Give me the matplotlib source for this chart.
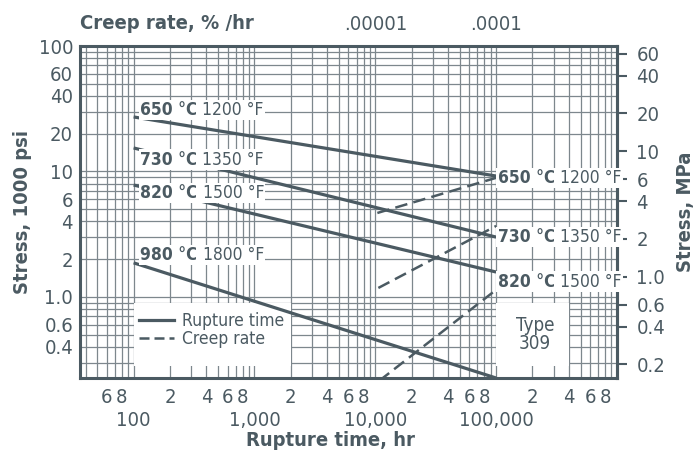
import numpy as np
import matplotlib
matplotlib.use('Agg')
import matplotlib.pyplot as plt
from matplotlib.ticker import LogLocator, FuncFormatter, NullLocator, NullFormatter
from matplotlib.patches import Rectangle

# condensed face throughout
plt.rcParams['font.family'] = ['DejaVu Sans']
plt.rcParams['font.stretch'] = 'condensed'
ink = '#4b5a62'
gridc = '#7d878d'

# Data: rupture time (hr) vs stress (1000 psi), solid lines
temps_c = ['650', '730', '820', '980']
temps_f = ['1200', '1350', '1500', '1800']
rupture_time = [100, 100000]
rupture_650 = [27.2, 9.2]
rupture_730 = [15.4, 3.0]
rupture_820 = [7.8, 1.58]
rupture_980 = [1.87, 0.226]

# creep rate (%/hr) vs stress (1000 psi), dashed lines
creep_650_rate = [1.04e-5, 1.0e-4]
creep_650 = [4.67, 8.9]
creep_730_rate = [1.06e-5, 1.0e-4]
creep_730 = [1.18, 3.68]
creep_820_rate = [1.08e-5, 1.0e-4]
creep_820 = [0.215, 1.14]

# axis tick values
x_major = [100, 1000, 10000, 100000]
x_major_labels = ['100', '1,000', '10,000', '100,000']
y_left = [100, 60, 40, 20, 10, 6, 4, 2, 1.0, 0.6, 0.4]
y_left_labels = ['100', '60', '40', '20', '10', '6', '4', '2', '1.0', '0.6', '0.4']
y_right = [60, 40, 20, 10, 6, 4, 2, 1.0, 0.6, 0.4, 0.2]
y_right_labels = ['60', '40', '20', '10', '6', '4', '2', '1.0', '0.6', '0.4', '0.2']
creep_ticks = [1e-5, 1e-4]
creep_labels = ['.00001', '.0001']

HR_PER_RATE = 1e9      # top scale: creep rate * 1e9 -> rupture-time position
MPA_SCALE = 0.6895     # right scale as labelled

TICK_FS = 14.5
fig = plt.figure(figsize=(6.98, 4.55), dpi=100)
ax = fig.add_axes([0.1146, 0.1692, 0.7693, 0.7297])
ax.set_xscale('log')
ax.set_yscale('log')
ax.set_xlim(36, 1e6)
ax.set_ylim(0.226, 100)
ax.set_axisbelow(True)

# grid
ax.xaxis.set_minor_locator(LogLocator(base=10, subs=np.arange(2, 10), numticks=30))
ax.yaxis.set_minor_locator(LogLocator(base=10, subs=np.arange(2, 10), numticks=30))
ax.grid(True, which='both', color=gridc, lw=0.9, zorder=0)

# x ticks
ax.set_xticks(x_major)
ax.set_xticklabels(x_major_labels)

def minor_fmt(v, pos):
    d = int(round(v / 10 ** np.floor(np.log10(v) + 1e-9)))
    if d in (2, 4, 6, 8) and v > 50:
        return str(d)
    return ''

ax.xaxis.set_minor_formatter(FuncFormatter(minor_fmt))
ax.tick_params(axis='x', which='major', length=0, pad=24, labelsize=TICK_FS, labelcolor=ink)
ax.tick_params(axis='x', which='minor', length=0, pad=7, labelsize=TICK_FS, labelcolor=ink)

# y ticks (left)
ax.set_yticks(y_left)
ax.set_yticklabels(y_left_labels)
ax.yaxis.set_minor_formatter(NullFormatter())
ax.tick_params(axis='y', which='both', length=0, pad=5, labelsize=TICK_FS, labelcolor=ink)

for s in ax.spines.values():
    s.set_color(ink)
    s.set_linewidth(2.2)

# white boxes behind legend and type label
ax.add_patch(Rectangle((100, 0.28), 1900, 0.61, facecolor='white', edgecolor='none', zorder=1))
ax.add_patch(Rectangle((1e5, 0.28), 3e5, 0.61, facecolor='white', edgecolor='none', zorder=1))

# rupture lines
for vals in [rupture_650, rupture_730, rupture_820, rupture_980]:
    ax.plot(rupture_time, vals, color=ink, lw=2.3, zorder=3, solid_capstyle='butt')

# creep lines
for rate, vals in [(creep_650_rate, creep_650), (creep_730_rate, creep_730),
                   (creep_820_rate, creep_820)]:
    ax.plot(np.array(rate) * HR_PER_RATE, vals, color=ink, lw=1.8,
            dashes=(5, 2.5), zorder=3)

# temperature labels
def temp_label(x, y, tc, tf):
    t = ax.text(x, y, f'{tc} °C', fontsize=12.5, fontweight='bold', color=ink,
                ha='left', va='center', zorder=5,
                bbox=dict(facecolor='white', edgecolor='none', pad=1.0))
    ax.annotate(f' {tf} °F', xy=(1, 0.5), xycoords=t, va='center', ha='left',
                fontsize=12.5, color=ink, zorder=5,
                bbox=dict(facecolor='white', edgecolor='none', pad=1.0))

left_pos = [(113, 30.9), (113, 12.4), (113, 6.75), (113, 2.16)]
right_pos = [(1.03e5, 8.87), (1.03e5, 3.0), (1.03e5, 1.32)]
for (x, y), tc, tf in zip(left_pos, temps_c, temps_f):
    temp_label(x, y, tc, tf)
for (x, y), tc, tf in zip(right_pos, temps_c[:3], temps_f[:3]):
    temp_label(x, y, tc, tf)

# legend
h1, = ax.plot([], [], color=ink, lw=2.3, label='Rupture time')
h2, = ax.plot([], [], color=ink, lw=1.8, dashes=(4, 2), label='Creep rate')
leg = ax.legend(handles=[h1, h2], loc='upper left', bbox_to_anchor=(0.11, 0.2),
                frameon=False, fontsize=12.5, handlelength=2.0, handletextpad=0.45,
                labelspacing=0.05, borderpad=0, borderaxespad=0)
for txt in leg.get_texts():
    txt.set_color(ink)

ax.text(0.847, 0.13, 'Type\n309', transform=ax.transAxes, ha='center', va='center',
        fontsize=13.5, color=ink, linespacing=0.95, zorder=5)

# right axis (MPa)
sec_r = ax.secondary_yaxis('right', functions=(lambda y: y * MPA_SCALE,
                                               lambda y: y / MPA_SCALE))
sec_r.set_yticks(y_right)
sec_r.set_yticklabels(y_right_labels)
sec_r.yaxis.set_minor_locator(NullLocator())
sec_r.tick_params(axis='y', length=7, width=1.5, color=ink, pad=7,
                  labelsize=TICK_FS, labelcolor=ink)
for s in sec_r.spines.values():
    s.set_color(ink)
    s.set_linewidth(2.2)
sec_r.set_ylabel('Stress, MPa', fontweight='bold', fontsize=14.5, color=ink,
                 rotation=90, labelpad=8)

# top axis (creep rate)
sec_t = ax.secondary_xaxis('top', functions=(lambda x: x / HR_PER_RATE,
                                             lambda x: x * HR_PER_RATE))
sec_t.set_xticks(creep_ticks)
sec_t.set_xticklabels(creep_labels)
sec_t.xaxis.set_minor_locator(NullLocator())
sec_t.tick_params(axis='x', length=0, pad=9, labelsize=TICK_FS, labelcolor=ink)
for s in sec_t.spines.values():
    s.set_visible(False)
ax.text(0.0, 1.04, 'Creep rate, % /hr', transform=ax.transAxes, ha='left', va='bottom',
        fontweight='bold', fontsize=14.5, color=ink)

ax.set_xlabel('Rupture time, hr', fontweight='bold', fontsize=14.5, color=ink)
ax.xaxis.set_label_coords(0.466, -0.16)
ax.set_ylabel('Stress, 1000 psi', fontweight='bold', fontsize=14.5, color=ink,
              labelpad=5)

fig.savefig('out.png', dpi=100)
